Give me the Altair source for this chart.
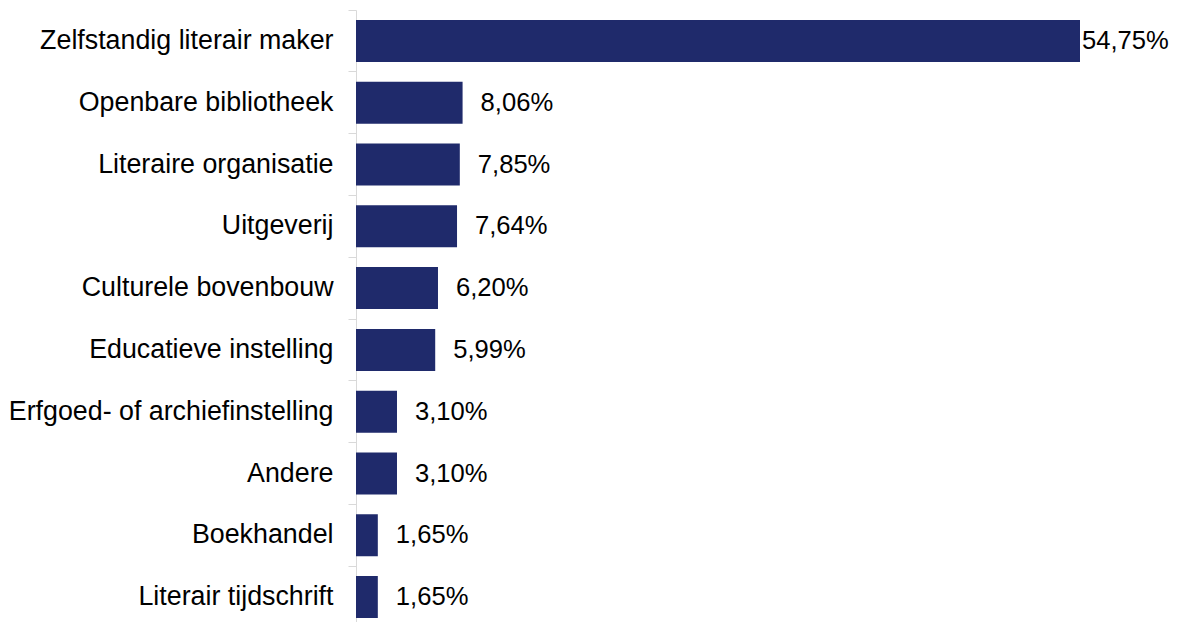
import altair as alt
import pandas as pd

categories = [
    "Zelfstandig literair maker",
    "Openbare bibliotheek",
    "Literaire organisatie",
    "Uitgeverij",
    "Culturele bovenbouw",
    "Educatieve instelling",
    "Erfgoed- of archiefinstelling",
    "Andere",
    "Boekhandel",
    "Literair tijdschrift",
]
values = [54.75, 8.06, 7.85, 7.64, 6.20, 5.99, 3.10, 3.10, 1.65, 1.65]
labels = [f"{v:.2f}".replace(".", ",") + "%" for v in values]

df = pd.DataFrame({"cat": categories, "value": values, "label": labels})

FONT = "Liberation Sans"
FS = 26.8
VFS = 25.6
BAR = "#1f2a6b"

y = alt.Y(
    "cat:N",
    sort=categories,
    title=None,
    scale=alt.Scale(paddingInner=0, paddingOuter=0),
    axis=alt.Axis(
        domainColor="#d9d9d9",
        tickColor="#d9d9d9",
        tickSize=8,
        bandPosition=0,
        grid=False,
        labelPadding=15,
        labelFont=FONT,
        labelFontSize=FS,
        labelColor="#000000",
        labelLimit=0,
    ),
)
x = alt.X(
    "value:Q",
    title=None,
    scale=alt.Scale(domain=[0, 54.75], nice=False),
    axis=None,
)

base = alt.Chart(df)

bars = base.mark_bar(color=BAR, height={"band": 0.68}, strokeWidth=0).encode(x=x, y=y)

text_small = (
    base.transform_joinaggregate(maxv="max(value)")
    .transform_filter("datum.value < datum.maxv")
    .mark_text(align="left", baseline="middle", dx=18, font=FONT, fontSize=VFS, color="#000000")
    .encode(x=x, y=y, text="label:N")
)
text_big = (
    base.transform_joinaggregate(maxv="max(value)")
    .transform_filter("datum.value == datum.maxv")
    .mark_text(align="left", baseline="middle", dx=2, font=FONT, fontSize=VFS, color="#000000")
    .encode(x=x, y=y, text="label:N")
)

chart = (
    alt.layer(bars, text_small, text_big)
    .properties(
        width=724,
        height=618,
        autosize=alt.AutoSizeParams(type="none"),
        padding={"top": 2, "left": 348, "right": 90, "bottom": 0},
        view=alt.ViewBackground(strokeWidth=0, strokeOpacity=0),
    )
    .configure_view(strokeWidth=0, strokeOpacity=0)
    .configure(background="white")
)

chart.save("out.html", embed_options={"renderer": "svg", "actions": False})
